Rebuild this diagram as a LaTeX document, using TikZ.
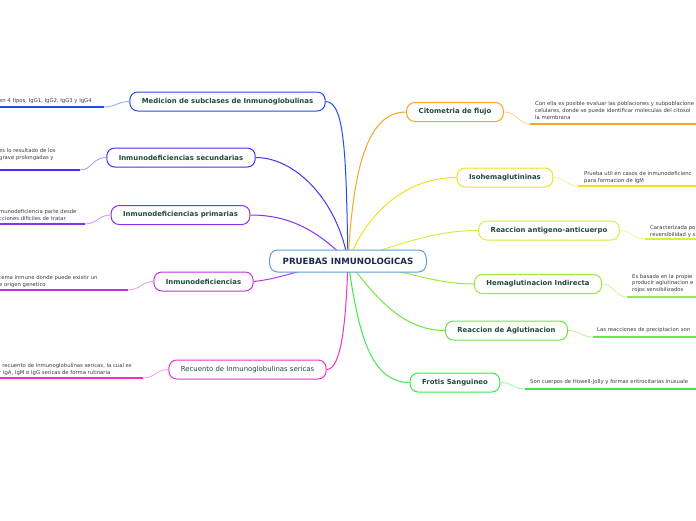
\documentclass[tikz,border=0pt]{standalone}
\usepackage{fontspec}
\setmainfont{DejaVu Sans}
\usetikzlibrary{backgrounds}
\definecolor{rootblue}{HTML}{5A9FD4}
\definecolor{rootnavy}{HTML}{1B2A52}
\definecolor{labelgreen}{HTML}{1E4A3A}
\definecolor{leafgray}{HTML}{3A3A3A}
\definecolor{medblue}{HTML}{1F4FE8}
\definecolor{secblue}{HTML}{4A30F0}
\definecolor{primviolet}{HTML}{8A30F0}
\definecolor{inmviolet}{HTML}{C030E8}
\definecolor{recpink}{HTML}{F030C8}
\definecolor{citorange}{HTML}{F5A623}
\definecolor{isoyellow}{HTML}{F0E020}
\definecolor{antlime}{HTML}{D4F03C}
\definecolor{hemgreen}{HTML}{9AEB3C}
\definecolor{aglgreen}{HTML}{6AE83C}
\definecolor{frogreen}{HTML}{3EE84A}

\begin{document}
\begin{tikzpicture}[x=1pt, y=-1pt,
    topic/.style={draw=#1, line width=1pt, rounded corners=8pt, fill=white,
        minimum height=19pt, inner xsep=12pt, text=labelgreen,
        font=\fontsize{6.9}{8}\selectfont\bfseries},
    branch/.style={draw=#1, line width=1pt},
    twig/.style={draw=#1!50, line width=0.8pt},
    underrule/.style={draw=#1, line width=1.6pt},
    leaftext/.style={font=\fontsize{5.3}{6.7}\selectfont, text=leafgray,
        align=left, inner sep=0pt, anchor=north west}]
    \clip (0,0) rectangle (696,520);

    % Central topic
    \node[topic=rootblue, text=rootnavy, minimum height=22pt, inner xsep=13pt,
        font=\fontsize{8.6}{10}\selectfont\bfseries] (root) at (348,261) {PRUEBAS INMUNOLOGICAS};

    % Left side topics
    \node[topic=medblue] (med) at (227.5,101.5) {Medicion de subclases de Inmunoglobulinas};
    \node[topic=secblue] (sec) at (181,157.5) {Inmunodeficiencias secundarias};
    \node[topic=primviolet] (prim) at (180.5,215) {Inmunodeficiencias primarias};
    \node[topic=inmviolet] (inm) at (203.5,281.5) {Inmunodeficiencias};
    \node[topic=recpink, font=\fontsize{6.9}{8}\selectfont] (rec) at (247.5,369.5) {Recuento de Inmunoglobulinas sericas};

    % Right side topics
    \node[topic=citorange] (cit) at (455,112) {Citometria de flujo};
    \node[topic=isoyellow] (iso) at (505,177.5) {Isohemaglutininas};
    \node[topic=antlime] (ant) at (549,230.5) {Reaccion antigeno-anticuerpo};
    \node[topic=hemgreen] (hem) at (538,284) {Hemaglutinacion Indirecta};
    \node[topic=aglgreen] (agl) at (506.5,330.5) {Reaccion de Aglutinacion};
    \node[topic=frogreen] (fro) at (455,382.5) {Frotis Sanguineo};

    % Branches from the central topic
    \begin{scope}[on background layer]
        \draw[branch=medblue] (root.center) .. controls +(-2,-100) and +(20,0) .. (med.east);
        \draw[branch=secblue] (root.center) .. controls +(-10,-60) and +(40,0) .. (sec.east);
        \draw[branch=primviolet] (root.center) .. controls +(-30,-30) and +(40,0) .. (prim.east);
        \draw[branch=inmviolet] (root.center) .. controls +(-40,5) and +(30,-3) .. (inm.east);
        \draw[branch=recpink] (root.center) .. controls +(-2,60) and +(15,0) .. (rec.east);
        \draw[branch=citorange] (root.center) .. controls +(5,-90) and +(-40,0) .. (cit.west);
        \draw[branch=isoyellow] (root.center) .. controls +(20,-50) and +(-50,0) .. (iso.west);
        \draw[branch=antlime] (root.center) .. controls +(60,-20) and +(-40,0) .. (ant.west);
        \draw[branch=hemgreen] (root.center) .. controls +(60,10) and +(-40,0) .. (hem.west);
        \draw[branch=aglgreen] (root.center) .. controls +(30,40) and +(-40,0) .. (agl.west);
        \draw[branch=frogreen] (root.center) .. controls +(10,70) and +(-40,0) .. (fro.west);
    \end{scope}

    % Left leaves
    \coordinate (medA) at (104,107);
    \coordinate (medB) at (-2,107);
    \draw[twig=medblue] (med.west) .. controls +(-12,0) and +(12,0) .. (medA);
    \draw[underrule=medblue] (medA) -- (medB);
    \node[leaftext] (medT) at (-1,98.5) {en 4 tipos, IgG1, IgG2, IgG3 y IgG4};

    \coordinate (secA) at (80,170);
    \coordinate (secB) at (-2,170);
    \draw[twig=secblue] (sec.west) .. controls +(-14,0) and +(12,0) .. (secA);
    \draw[underrule=secblue] (secA) -- (secB);
    \node[leaftext] (secT) at (-1,148.5) {es lo resultado de los\\grave prolongadas y};

    \coordinate (primA) at (85,224);
    \coordinate (primB) at (-2,224);
    \draw[twig=primviolet] (prim.west) .. controls +(-12,0) and +(12,0) .. (primA);
    \draw[underrule=primviolet] (primA) -- (primB);
    \node[leaftext] (primT) at (-1,209.5) {munodeficiencia parte desde\\cciones dificiles de tratar};

    \coordinate (inmA) at (128,290);
    \coordinate (inmB) at (-2,290);
    \draw[twig=inmviolet] (inm.west) .. controls +(-12,0) and +(12,0) .. (inmA);
    \draw[underrule=inmviolet] (inmA) -- (inmB);
    \node[leaftext] (inmT) at (-1,275.5) {tema inmune donde puede existir un\\e origen genetico};

    \coordinate (recA) at (143,378);
    \coordinate (recB) at (-2,378);
    \draw[twig=recpink] (rec.west) .. controls +(-12,0) and +(12,0) .. (recA);
    \draw[underrule=recpink] (recA) -- (recB);
    \node[leaftext] (recT) at (-1,363.5) {l recuento de inmunoglobulinas sericas, la cual es\\r IgA, IgM e IgG sericas de forma rutinaria};

    % Right leaves
    \coordinate (citA) at (530,124);
    \coordinate (citB) at (698,124);
    \draw[twig=citorange] (cit.east) .. controls +(14,0) and +(-12,0) .. (citA);
    \draw[underrule=citorange] (citA) -- (citB);
    \node[leaftext] (citT) at (535,101.5) {Con ella es posible evaluar las poblaciones y subpoblacione\\celulares, donde se puede identificar moleculas del citosol\\la membrana};

    \coordinate (isoA) at (578,186);
    \coordinate (isoB) at (698,186);
    \draw[twig=isoyellow] (iso.east) .. controls +(12,0) and +(-12,0) .. (isoA);
    \draw[underrule=isoyellow] (isoA) -- (isoB);
    \node[leaftext] (isoT) at (584,171.5) {Prueba util en casos de inmunodeficienc\\para formacion de IgM};

    \coordinate (antA) at (645,239);
    \coordinate (antB) at (698,239);
    \draw[twig=antlime] (ant.east) .. controls +(12,0) and +(-12,0) .. (antA);
    \draw[underrule=antlime] (antA) -- (antB);
    \node[leaftext] (antT) at (650,225.5) {Caracterizada po\\reversibilidad y s};

    \coordinate (hemA) at (627,297);
    \coordinate (hemB) at (698,297);
    \draw[twig=hemgreen] (hem.east) .. controls +(12,0) and +(-12,0) .. (hemA);
    \draw[underrule=hemgreen] (hemA) -- (hemB);
    \node[leaftext] (hemT) at (632,274) {Es basada en la propie\\producir aglutinacion e\\rojos sensibilizados};

    \coordinate (aglA) at (593,337);
    \coordinate (aglB) at (698,337);
    \draw[twig=aglgreen] (agl.east) .. controls +(12,0) and +(-12,0) .. (aglA);
    \draw[underrule=aglgreen] (aglA) -- (aglB);
    \node[leaftext] (aglT) at (597,327.5) {Las reacciones de preciptacion son};

    \coordinate (froA) at (525,389);
    \coordinate (froB) at (698,389);
    \draw[twig=frogreen] (fro.east) .. controls +(12,0) and +(-12,0) .. (froA);
    \draw[underrule=frogreen] (froA) -- (froB);
    \node[leaftext] (froT) at (530,379.5) {Son cuerpos de Howell-Jolly y formas eritrocitarias inusuale};
\end{tikzpicture}
\end{document}
